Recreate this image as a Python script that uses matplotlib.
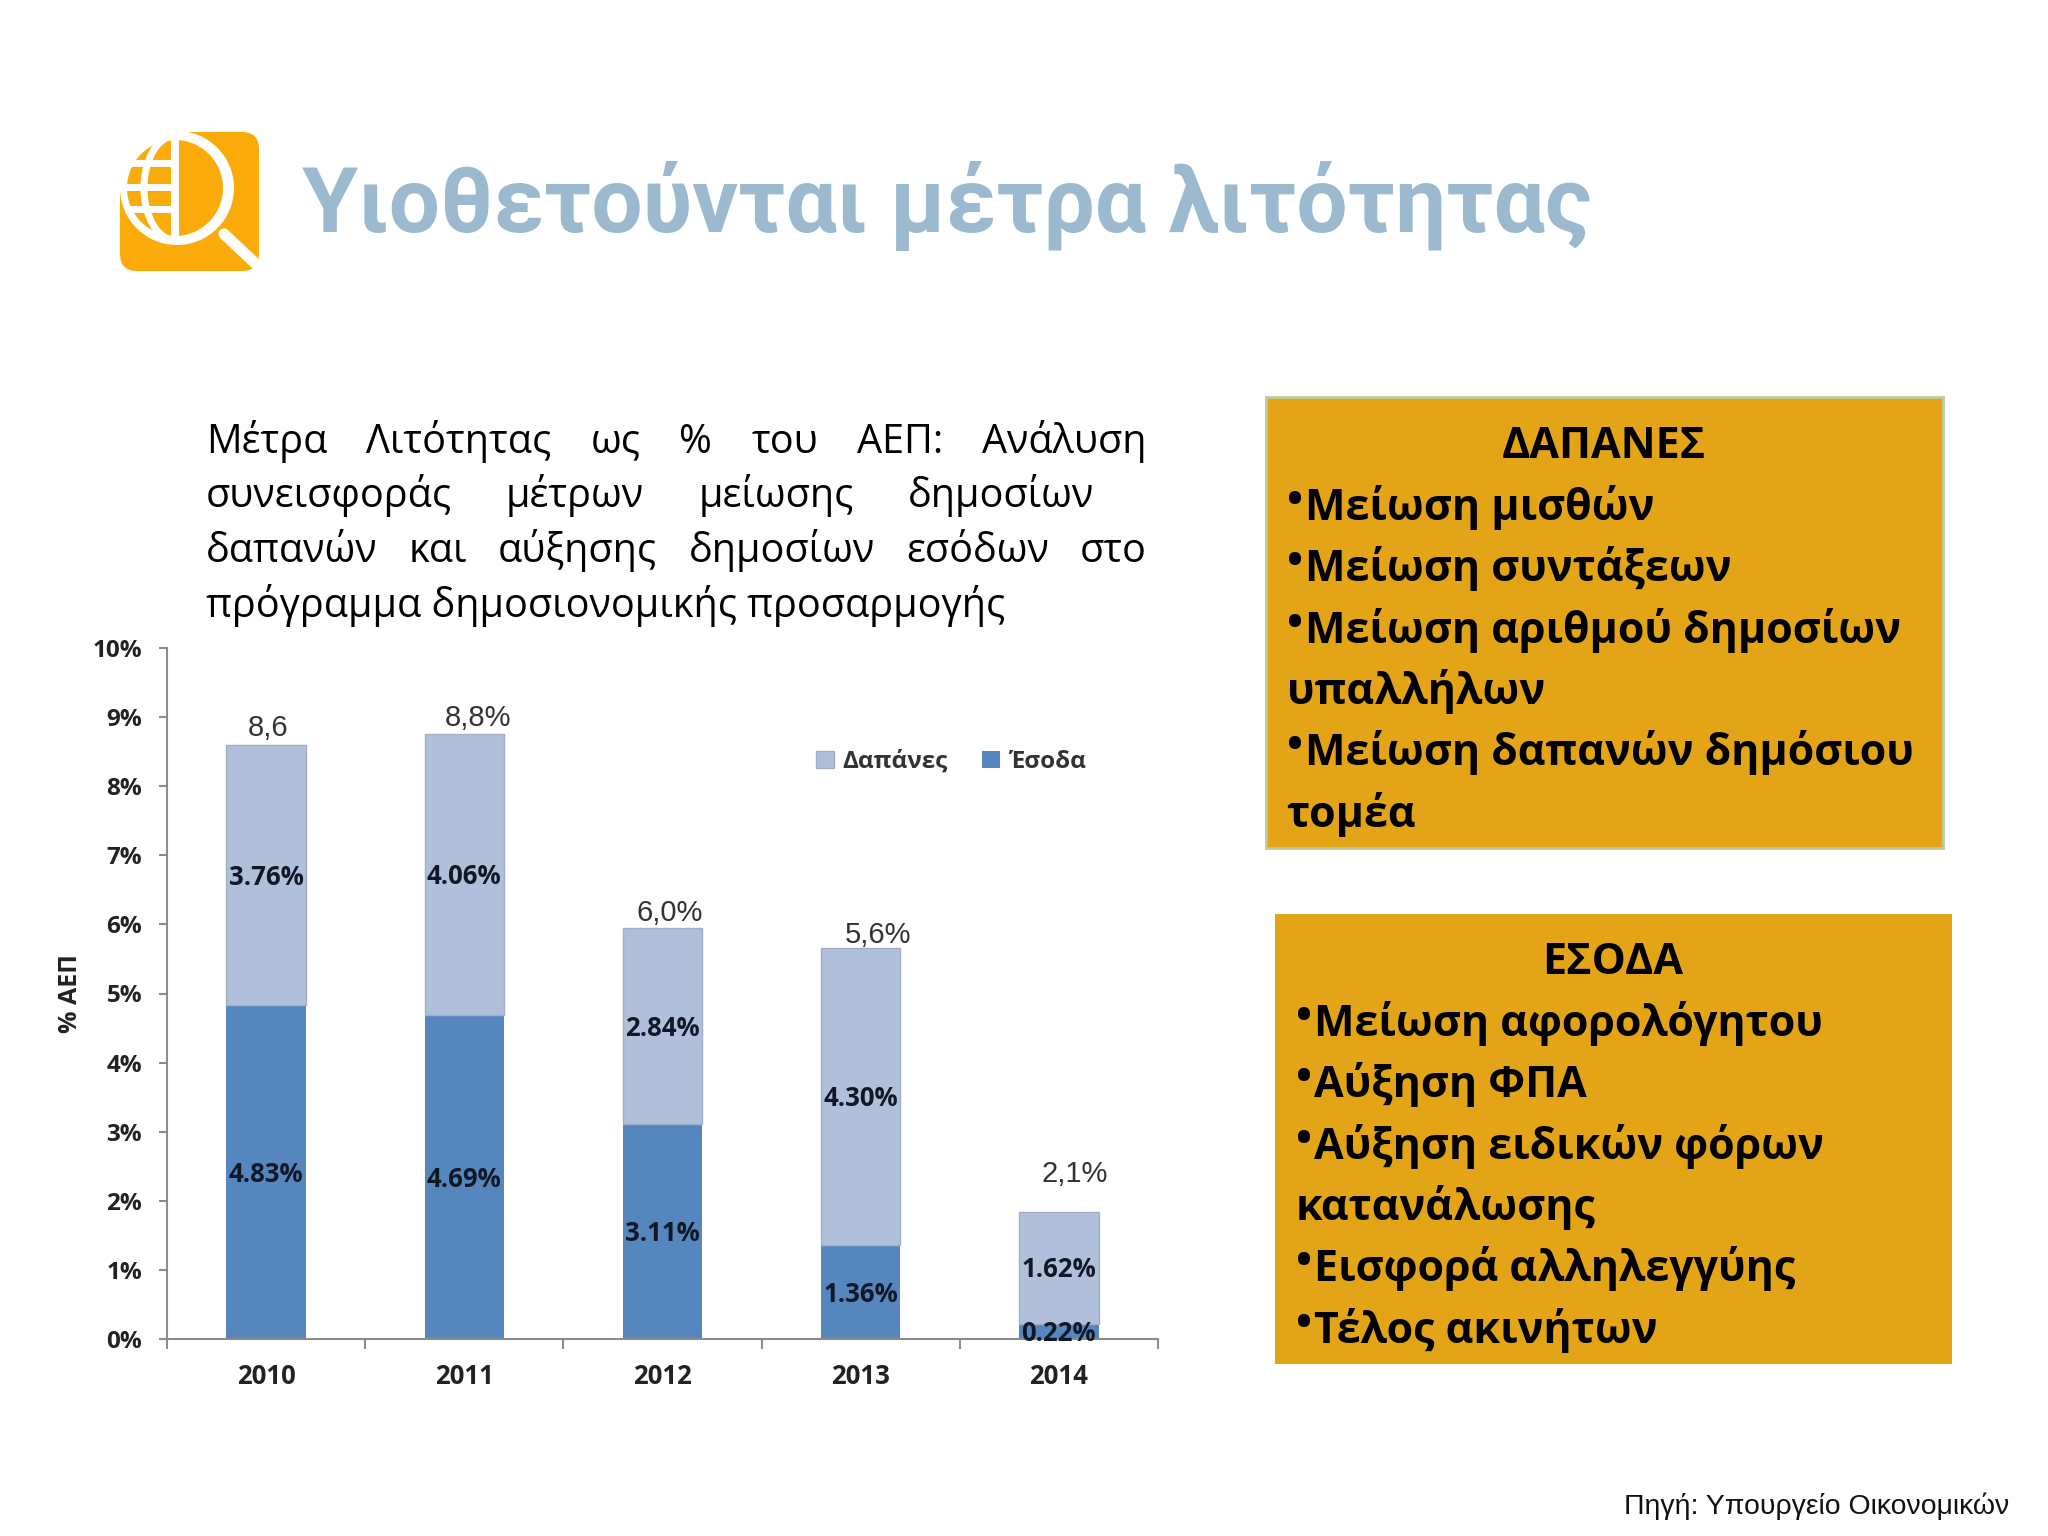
import matplotlib
matplotlib.use('Agg')
import matplotlib.pyplot as plt
from matplotlib.patches import Arc, Circle, FancyBboxPatch, Rectangle, Wedge
import numpy as np

# chart data, % of GDP
years = ['2010', '2011', '2012', '2013', '2014']
esoda = [4.83, 4.69, 3.11, 1.36, 0.22]
dapanes = [3.76, 4.06, 2.84, 4.30, 1.62]
totals = ['8,6', '8,8%', '6,0%', '5,6%', '2,1%']
y_ticks = [0, 1, 2, 3, 4, 5, 6, 7, 8, 9, 10]

title = 'Υιοθετούνται μέτρα λιτότητας'
para_lines = [
    'Μέτρα Λιτότητας ως % του ΑΕΠ: Ανάλυση',
    'συνεισφοράς μέτρων μείωσης δημοσίων',
    'δαπανών και αύξησης δημοσίων εσόδων στο',
    'πρόγραμμα δημοσιονομικής προσαρμογής',
]
dapanes_box = ['Μείωση μισθών', 'Μείωση συντάξεων', 'Μείωση αριθμού δημοσίων', 'υπαλλήλων',
               'Μείωση δαπανών δημόσιου', 'τομέα']
esoda_box = ['Μείωση αφορολόγητου', 'Αύξηση ΦΠΑ', 'Αύξηση ειδικών φόρων', 'κατανάλωσης',
             'Εισφορά αλληλεγγύης', 'Τέλος ακινήτων']
source = 'Πηγή: Υπουργείο Οικονομικών'

# label nudges in pixels, the total labels are placed by hand in the original
total_dx = [2, 14, 7, 17, 16]
total_dy = [17, 16, 15, 13, 38]

BODY = 'Open Sans'
DARK = '#5587be'
LIGHT = '#b0bfda'
AMBER = '#e3a517'
K = 2048 / 1568  # reading scale, layout numbers below were read at 1568 wide

fig = plt.figure(figsize=(20.48, 15.36), dpi=100, facecolor='white')

# whole page layer in pixels
bg = fig.add_axes([0, 0, 1, 1])
bg.set_xlim(0, 2048)
bg.set_ylim(1536, 0)
bg.axis('off')

# logo
orange = '#fbab09'
bg.add_patch(FancyBboxPatch((120, 132), 139, 139, boxstyle='round,pad=0,rounding_size=17', fc=orange, ec='none'))
bg.add_patch(Rectangle((118, 130), 60, 58, fc='white', ec='none'))
bg.add_patch(Circle((177, 188), 57, fc='white', ec='none'))
bg.add_patch(Wedge((175, 188), 48, 0, 360, fc=orange, ec='none'))
bg.add_patch(Rectangle((171, 136), 8, 104, fc='white', ec='none'))
bg.add_patch(Arc((175, 188), 62, 104, theta1=90, theta2=270, ec='white', lw=5))
for yy in [163, 187, 209]:
    bg.add_patch(Rectangle((125, yy - 3.5), 47, 7, fc='white', ec='none'))
bg.plot([224, 256], [234, 264], color='white', lw=8, solid_capstyle='round')

bg.text(302, 232, title, fontsize=65.3, fontweight='bold', family='Roboto', color='#9bbacf', va='baseline')

# justified paragraph, word by word
renderer = fig.canvas.get_renderer()
para_base = [346.5, 388.5, 430.5, 472.5]
para_right = [878, 838, 878, None]
PARA_SIZE = 28.5
for line, base, right in zip(para_lines, para_base, para_right):
    base = base * K
    x0 = 157.5 * K
    if right is None:
        bg.text(x0, base, line, fontsize=PARA_SIZE, family=BODY, color='black', va='baseline')
        continue
    parts = [bg.text(0, base, w, fontsize=PARA_SIZE, family=BODY, color='black', va='baseline') for w in line.split()]
    widths = [p.get_window_extent(renderer).width for p in parts]
    gap = (right * K - x0 - sum(widths)) / (len(parts) - 1)
    x = x0
    for p, w in zip(parts, widths):
        p.set_x(x)
        x += w + gap

# text boxes
BOX_SIZE = 31
def text_box(x0, y0, x1, y1, edge, head, rows, rows_x, head_x, first_base):
    bg.add_patch(Rectangle((x0 * K, y0 * K), (x1 - x0) * K, (y1 - y0) * K, fc=AMBER, ec=edge, lw=2 if edge else 0))
    bg.text(head_x * K, first_base * K, head, fontsize=BOX_SIZE, fontweight='bold', family=BODY,
            color='black', ha='center', va='baseline')
    for i, row in enumerate(rows):
        base = (first_base + 47 * (i + 1)) * K
        if row in ('υπαλλήλων', 'τομέα', 'κατανάλωσης'):
            bg.text(rows_x * K, base, row, fontsize=BOX_SIZE, fontweight='bold', family=BODY, color='black', va='baseline')
        else:
            bg.text(rows_x * K, base - 7, '•', fontsize=BOX_SIZE, fontweight='bold', family=BODY, color='black', va='baseline')
            bg.text((rows_x + 14) * K, base, row, fontsize=BOX_SIZE, fontweight='bold', family=BODY, color='black', va='baseline')

text_box(969, 304, 1487.5, 649.5, '#b9cd96', 'ΔΑΠΑΝΕΣ', dapanes_box, 985, 1228, 351)
text_box(976, 699.5, 1494.5, 1044.5, None, 'ΕΣΟΔΑ', esoda_box, 992, 1235, 746)

bg.text(1538 * K, 1159 * K, source, fontsize=20.4, family='Liberation Sans', color='#111111', ha='right', va='baseline')

# stacked bars
ax = fig.add_axes([167 / 2048, 1 - 1339 / 1536, (1158 - 167) / 2048, (1339 - 648) / 1536])
ax.patch.set_alpha(0)
x = np.arange(len(years))
b1 = ax.bar(x, esoda, 0.4, color=DARK, label='Έσοδα')
b2 = ax.bar(x, dapanes, 0.4, bottom=esoda, color=LIGHT, edgecolor='#a3aec4', linewidth=1, label='Δαπάνες')
ax.set_xlim(-0.5, 4.5)
ax.set_ylim(0, 10)

lab = dict(fontsize=18.5, fontweight='bold', family=BODY, color='#101828')
seg_labels = ax.bar_label(b1, labels=['%.2f%%' % v for v in esoda], label_type='center', **lab)
seg_labels += ax.bar_label(b2, labels=['%.2f%%' % v for v in dapanes], label_type='center', **lab)
for t in seg_labels:
    t.xyann = (0, -1.5)

for i, t in enumerate(totals):
    ax.annotate(t, (x[i], esoda[i] + dapanes[i]), xytext=(total_dx[i], total_dy[i]), textcoords='offset pixels',
                ha='center', va='center', fontsize=21, family='Liberation Sans', color='#333333')

ax.set_yticks(y_ticks)
ax.set_yticklabels(['%d%%' % v for v in y_ticks], fontsize=17.5, fontweight='bold', family=BODY, color='#222222')
ax.set_xticks(np.arange(-0.5, 5, 1))
ax.set_xticklabels([])
ax.set_xticks(x, minor=True)
ax.set_xticklabels(years, minor=True, fontsize=18.5, fontweight='bold', family=BODY, color='#222222')
ax.tick_params(axis='y', length=6, width=1.5, color='#8c8c8c', pad=12)
ax.tick_params(axis='x', which='major', length=7, width=1.5, color='#8c8c8c')
ax.tick_params(axis='x', which='minor', length=0, pad=17)
for s in ['top', 'right']:
    ax.spines[s].set_visible(False)
for s in ['left', 'bottom']:
    ax.spines[s].set_color('#8c8c8c')
    ax.spines[s].set_linewidth(1.5)
ax.set_ylabel('% ΑΕΠ', fontsize=18, fontweight='bold', family=BODY, color='#222222', labelpad=7)

h, l = ax.get_legend_handles_labels()
leg = ax.legend(h[::-1], l[::-1], ncol=2, frameon=False, loc='center', bbox_to_anchor=(0.791, 0.835),
                prop={'family': BODY, 'weight': 'bold', 'size': 17.5}, handlelength=0.75, handleheight=0.75,
                handletextpad=0.35, columnspacing=1.4, labelcolor='#333333')

fig.savefig('out.png', dpi=100)
